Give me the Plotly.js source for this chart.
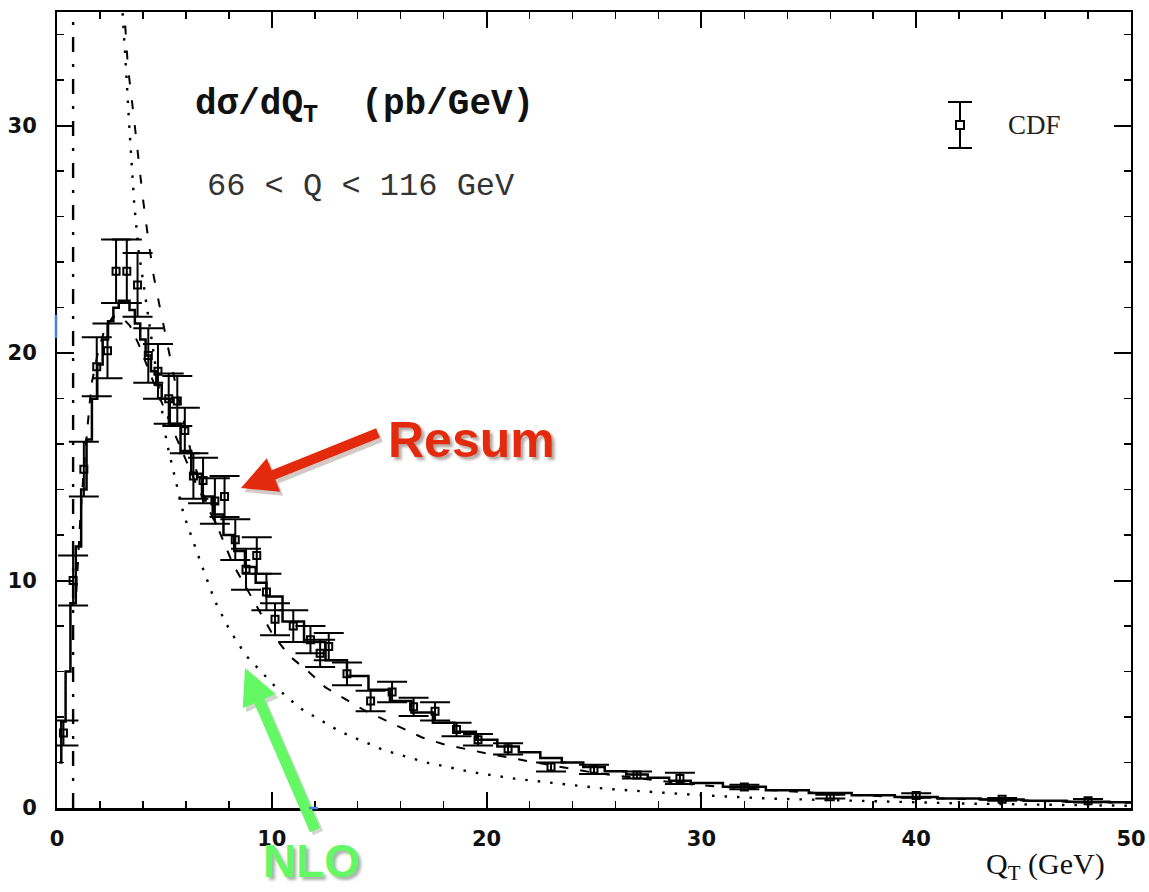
<!DOCTYPE html>
<html>
<head>
<meta charset="utf-8">
<script src="https://cdn.plot.ly/plotly-3.0.1.min.js"></script>
<style>html,body{margin:0;padding:0;background:#fff;}#chart{width:1149px;height:892px;}</style>
</head>
<body>
<div id="chart"></div>
<script>
// ---- data ----
const resumQT = [0.1,0.3,0.5,0.75,1.0,1.25,1.5,1.75,2.0,2.25,2.5,2.75,3.0,3.25,3.5,3.75,4.0,4.25,4.5,4.75,5.0,5.5,6.0,6.5,7.0,7.5,8.0,8.5,9.0,9.5,10,11,12,13,14,15,16,17,18,19,20,21,22,23,24,25,26,27,28,29,30,32,34,36,38,40,42,44,46,48,50];
const resumVal = [2.0,3.8,6.0,9.0,11.5,14.0,16.2,18.0,19.5,20.6,21.4,22.0,22.3,22.3,21.9,21.3,20.6,19.9,19.2,18.6,18.0,16.9,15.7,14.7,13.7,12.9,12.0,11.3,10.6,9.9,9.3,8.2,7.3,6.5,5.8,5.2,4.7,4.2,3.75,3.35,3.0,2.7,2.45,2.2,2.0,1.8,1.62,1.47,1.33,1.2,1.1,0.93,0.78,0.66,0.56,0.48,0.42,0.37,0.32,0.28,0.25];

const dashedQT = [0.9,1.1,1.3,1.6,1.9,2.2,2.6,3.0,3.4,3.8,4.5,5.5,6.5,7.5,8.2,9.2,10.0,10.8,11.7,12.5,13.3,14.3,15.3,17,18,20,22,25,28,30,33,36,40,44,48,50];
const dashedVal = [9.5,13.0,15.5,18.6,20.0,21.0,21.6,21.6,21.2,20.4,18.7,16.4,14.2,12.3,10.7,9.0,7.7,6.7,6.0,5.3,4.85,4.3,3.85,3.1,2.8,2.4,2.05,1.55,1.2,1.0,0.8,0.62,0.45,0.34,0.26,0.23];

const asymQT = [3.1,3.3,3.55,3.8,4.0,4.25,4.5,4.75,5.0,5.3,5.7,6.2,6.8,7.5];
const asymVal = [35.5,32.6,30.6,28.4,26.8,25.0,23.4,22.2,21.0,19.6,17.8,15.8,13.8,12.3];

const nloQT = [3.02,3.15,3.25,3.35,3.45,3.6,3.8,4.1,4.3,4.7,5.1,5.6,5.9,6.65,7.35,8.05,8.8,10.2,11.3,13.2,15.2,17.2,19.3,21.3,23.3,25.5,27.8,30,33.3,38.2,42.6,47.9,50];
const nloVal = [35.5,33.7,31.9,30.2,28.8,26.5,24.5,22.5,21.2,18.7,16.1,14.1,12.9,10.9,9.1,7.8,6.7,5.3,4.4,3.35,2.55,2.0,1.58,1.29,1.07,0.85,0.70,0.56,0.41,0.29,0.19,0.12,0.1];

const dashDotQT = [0.75, 0.75];
const dashDotVal = [0, 36];

const cdfQT  = [0.3,0.75,1.25,1.85,2.35,2.75,3.25,3.75,4.25,4.7,5.2,5.6,5.95,6.35,6.8,7.35,7.8,8.3,8.8,9.3,9.75,10.15,11.0,11.8,12.25,12.65,13.5,14.6,15.6,16.6,17.6,18.6,19.6,21.0,23.0,25.0,27.0,29.0,32.0,36.0,40.0,44.0,48.0];
const cdfVal = [3.3,10.0,14.9,19.4,20.1,23.6,23.6,23.0,19.9,19.2,18.0,17.9,16.6,14.6,14.4,13.5,13.7,11.8,10.5,11.1,9.5,8.3,8.0,7.4,6.8,7.1,5.9,4.7,5.1,4.45,4.25,3.45,3.0,2.6,1.8,1.7,1.45,1.3,0.92,0.5,0.55,0.38,0.32];
const cdfErr = [0.55,1.1,1.2,1.3,1.2,1.4,1.4,1.4,1.2,1.2,1.1,1.1,1.0,1.0,1.0,1.0,0.9,0.9,0.9,0.8,0.8,0.7,0.7,0.6,0.6,0.6,0.5,0.45,0.45,0.4,0.4,0.3,0.25,0.25,0.2,0.2,0.15,0.25,0.1,0.08,0.1,0.06,0.08];

const xTicks = [0,10,20,30,40,50];
const yTicks = [0,10,20,30];

// ---- pixel helpers for decorations (plot area 57..1131 x 12..808) ----
const L = 57, R = 1131, T = 12, B = 808;
const px = x => (x - L) / (R - L);
const py = y => (B - y) / (B - T);

function arrowPath(tail, tip, sh, hl, hh) {
  const dx = tip[0] - tail[0], dy = tip[1] - tail[1];
  const len = Math.hypot(dx, dy);
  const ux = dx / len, uy = dy / len;
  const nx = -uy, ny = ux;
  const bx = tip[0] - hl * ux, by = tip[1] - hl * uy;
  const pts = [
    [tail[0] + sh * nx, tail[1] + sh * ny],
    [bx + sh * nx, by + sh * ny],
    [bx + hh * nx, by + hh * ny],
    tip,
    [bx - hh * nx, by - hh * ny],
    [bx - sh * nx, by - sh * ny],
    [tail[0] - sh * nx, tail[1] - sh * ny]
  ];
  return 'M ' + pts.map(p => px(p[0]).toFixed(5) + ' ' + py(p[1]).toFixed(5)).join(' L ') + ' Z';
}

const traces = [
  { x: dashDotQT, y: dashDotVal, mode: 'lines', line: { color: '#000', width: 2.4, dash: '15px,12px,3px,12px' }, hoverinfo: 'skip' },
  { x: nloQT, y: nloVal, mode: 'lines', line: { color: '#000', width: 2.4, dash: '2.5px,10px' }, hoverinfo: 'skip' },
  { x: asymQT, y: asymVal, mode: 'lines', line: { color: '#000', width: 2, dash: '9px,16px' }, hoverinfo: 'skip' },
  { x: dashedQT, y: dashedVal, mode: 'lines', line: { color: '#000', width: 2, dash: '9px,12px' }, hoverinfo: 'skip' },
  { x: resumQT, y: resumVal, mode: 'lines', line: { color: '#000', width: 2.5, shape: 'hvh' }, hoverinfo: 'skip' },
  { x: cdfQT, y: cdfVal, mode: 'markers', type: 'scatter',
    marker: { symbol: 'square-open', size: 7, color: '#000', line: { width: 2, color: '#000' } },
    error_y: { type: 'data', array: cdfErr, visible: true, color: '#000', thickness: 2, width: 15 },
    hoverinfo: 'skip' }
];

const mono = 'Liberation Mono, Courier New, monospace';
const annotations = [
  { xref: 'paper', yref: 'paper', x: px(193), y: py(107), xanchor: 'left', yanchor: 'middle', showarrow: false,
    text: 'dσ/dQ<sub>T</sub>\u00a0\u00a0(pb/GeV)', font: { family: mono, size: 36, color: '#111', weight: 'bold' } },
  { xref: 'paper', yref: 'paper', x: px(205), y: py(187), xanchor: 'left', yanchor: 'middle', showarrow: false,
    text: '66 &lt; Q &lt; 116 GeV', font: { family: mono, size: 32, color: '#333' } },
  { xref: 'paper', yref: 'paper', x: px(1006), y: py(125), xanchor: 'left', yanchor: 'middle', showarrow: false,
    text: 'CDF', font: { family: 'Liberation Serif, Times New Roman, serif', size: 27, color: '#222' } },
  { xref: 'paper', yref: 'paper', x: px(1107), y: py(866), xanchor: 'right', yanchor: 'middle', showarrow: false,
    text: 'Q<sub>T</sub> (GeV)', font: { family: 'Liberation Serif, Times New Roman, serif', size: 30, color: '#111' } },
  { xref: 'paper', yref: 'paper', x: px(386), y: py(440), xanchor: 'left', yanchor: 'middle', showarrow: false,
    text: 'Resum', font: { family: 'Liberation Sans, Arial, sans-serif', size: 50, color: '#E42A0C', weight: 'bold',
    shadow: '3px 3px 3px rgba(60,30,20,0.4)' } },
  { xref: 'paper', yref: 'paper', x: px(261), y: py(861), xanchor: 'left', yanchor: 'middle', showarrow: false,
    text: 'NLO', font: { family: 'Liberation Sans, Arial, sans-serif', size: 46, color: '#64F864', weight: 'bold',
    shadow: '3px 3px 3px rgba(40,70,40,0.4)' } }
];

const shapes = [
  // legend key
  { type: 'line', xref: 'paper', yref: 'paper', x0: px(960), x1: px(960), y0: py(102), y1: py(148), line: { color: '#000', width: 2 } },
  { type: 'line', xref: 'paper', yref: 'paper', x0: px(948), x1: px(972), y0: py(102), y1: py(102), line: { color: '#000', width: 2 } },
  { type: 'line', xref: 'paper', yref: 'paper', x0: px(948), x1: px(972), y0: py(148), y1: py(148), line: { color: '#000', width: 2 } },
  { type: 'rect', xref: 'paper', yref: 'paper', x0: px(956), x1: px(964), y0: py(129), y1: py(121), fillcolor: '#fff', line: { color: '#000', width: 2 } },
  // arrow shadows
  { type: 'path', xref: 'paper', yref: 'paper', path: arrowPath([381, 437], [244, 492], 5, 35, 18), fillcolor: 'rgba(80,40,30,0.25)', line: { width: 0 } },
  { type: 'path', xref: 'paper', yref: 'paper', path: arrowPath([318, 833], [248, 672], 5.5, 36, 18), fillcolor: 'rgba(60,90,60,0.25)', line: { width: 0 } },
  // arrows
  { type: 'path', xref: 'paper', yref: 'paper', path: arrowPath([378, 433], [241, 488], 5, 35, 18), fillcolor: '#E42A0C', line: { width: 0 } },
  { type: 'path', xref: 'paper', yref: 'paper', path: arrowPath([315, 830], [245, 668], 5.5, 36, 18), fillcolor: '#64F864', line: { width: 0 } },
  // small blue marks on the frame
  { type: 'line', xref: 'paper', yref: 'paper', x0: px(56), x1: px(56), y0: py(315), y1: py(338), line: { color: '#4A7FE6', width: 2.5 } },
  { type: 'line', xref: 'paper', yref: 'paper', x0: px(309), x1: px(318), y0: py(808), y1: py(808), line: { color: '#4A7FE6', width: 2.5 } }
];

const tickFont = { family: 'DejaVu Sans, sans-serif', size: 21, color: '#111', weight: 'bold' };

const layout = {
  width: 1149, height: 892,
  margin: { l: L, r: 1149 - R, t: T, b: 892 - B },
  paper_bgcolor: '#fff', plot_bgcolor: '#fff',
  showlegend: false,
  xaxis: {
    range: [0, 50], tickvals: xTicks, ticktext: xTicks.map(String),
    ticks: 'inside', ticklen: 16, tickwidth: 2, tickcolor: '#000',
    minor: { dtick: 2, tick0: 0, ticks: 'inside', ticklen: 7, tickwidth: 1.5, tickcolor: '#000', showgrid: false },
    showline: true, linecolor: '#000', linewidth: 2.5, mirror: 'allticks',
    showgrid: false, zeroline: false, tickfont: tickFont, ticklabelstandoff: 10, fixedrange: true
  },
  yaxis: {
    range: [0, 35], tickvals: yTicks, ticktext: yTicks.map(String),
    ticks: 'inside', ticklen: 17, tickwidth: 2, tickcolor: '#000',
    minor: { dtick: 2, tick0: 0, ticks: 'inside', ticklen: 7, tickwidth: 1.5, tickcolor: '#000', showgrid: false },
    showline: true, linecolor: '#000', linewidth: 2, mirror: 'allticks',
    showgrid: false, zeroline: false, tickfont: tickFont, ticklabelstandoff: 14, fixedrange: true
  },
  annotations: annotations,
  shapes: shapes
};

Plotly.newPlot('chart', traces, layout, { staticPlot: true, displayModeBar: false });
</script>
</body>
</html>
